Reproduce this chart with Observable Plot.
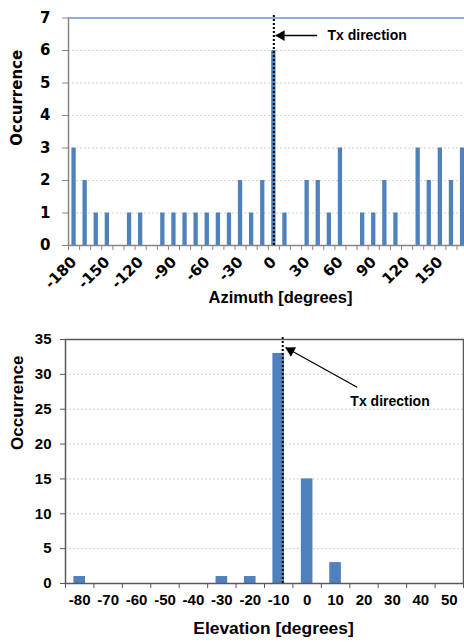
<!DOCTYPE html>
<html><head><meta charset="utf-8">
<script src="https://cdn.jsdelivr.net/npm/d3@7"></script>
<script src="https://cdn.jsdelivr.net/npm/@observablehq/plot@0.6"></script>
<style>
html,body{margin:0;padding:0;background:#fff;}
#wrap{width:464px;height:642px;overflow:hidden;background:#fff;}
#wrap svg{display:block;}
</style></head><body><div id="wrap"></div>
<script>
// ---------- data ----------
const azimuthBins = [-180,-170,-160,-150,-140,-130,-120,-110,-100,-90,-80,-70,-60,-50,-40,-30,-20,-10,0,10,20,30,40,50,60,70,80,90,100,110,120,130,140,150,160,170];
const azimuthCounts = [3,2,1,1,0,1,1,0,1,1,1,1,1,1,1,2,1,2,6,1,0,2,2,1,3,0,1,1,2,1,0,3,2,3,2,3];
const azimuthTickLabels = [-180,-150,-120,-90,-60,-30,0,30,60,90,120,150];
const azimuthYTicks = [0,1,2,3,4,5,6,7];

const elevationBins = [-80,-70,-60,-50,-40,-30,-20,-10,0,10,20,30,40,50];
const elevationCounts = [1,0,0,0,0,1,1,33,15,3,0,0,0,0];
const elevationYTicks = [0,5,10,15,20,25,30,35];

// annotations (data coordinates)
const azTxLine = [{x: 0, y1: 0, y2: 7.08}];
const azTxArrow = [{x1: 39, y1: 6.46, x2: 1.5, y2: 6.46}];
const azTxLabel = [{x: 48.3, y: 6.46, text: "Tx direction"}];

const elTxLine = [{x: -8.6, y1: 0, y2: 35.43}];
const elTxArrow = [{x1: 17.6, y1: 28.16, x2: -7.6, y2: 33.85}];
const elTxLabel = [{x: 15.2, y: 26.1, text: "Tx direction"}];

const BLUE = "#4f81bd";
const GRID = {stroke: "#d4d4d4", strokeOpacity: 1, strokeDasharray: "2,2"};

const azData = azimuthBins.map((b, i) => ({bin: b, count: azimuthCounts[i]}));
const elData = elevationBins.map((b, i) => ({bin: b, count: elevationCounts[i]}));
const azStep = azimuthBins[1] - azimuthBins[0];
const elStep = elevationBins[1] - elevationBins[0];
const azBounds = azimuthBins.map(b => b - azStep / 2).concat([azimuthBins[azimuthBins.length - 1] + azStep / 2]);
const elBounds = elevationBins.map(b => b - elStep / 2).concat([elevationBins[elevationBins.length - 1] + elStep / 2]);

function arrowHead(a, scaleX, scaleY) {
  const dxp = (a.x1 - a.x2) * scaleX, dyp = -(a.y1 - a.y2) * scaleY;
  const len = Math.hypot(dxp, dyp);
  const ux = dxp / len, uy = dyp / len;
  const rot = Math.atan2(-ux, uy) * 180 / Math.PI;
  return {dx: ux * 6, dy: uy * 6, rotate: rot};
}

// ---------- top: azimuth ----------
const azRange = [68, 467.6];
const azSX = (azRange[1] - azRange[0]) / (azBounds[azBounds.length - 1] - azBounds[0]);
const azSY = (245 - 17.5) / 7;
const azHead = arrowHead(azTxArrow[0], azSX, azSY);

const topChart = Plot.plot({
  width: 464, height: 320,
  marginTop: 17.5, marginBottom: 75, marginLeft: 68, marginRight: 0,
  style: {fontFamily: "'DejaVu Sans', Verdana, sans-serif", fontWeight: "bold", fontSize: "14px", color: "#000", background: "#fff", overflow: "hidden"},
  x: {type: "linear", domain: [azBounds[0], azBounds[azBounds.length - 1]], range: azRange},
  y: {domain: [0, 7]},
  marks: [
    Plot.gridY([1,2,3,4,5,6], GRID),
    Plot.ruleY([7], {stroke: "#6f93c9", strokeWidth: 1.5}),
    Plot.rectY(azData, {x1: d => d.bin - azStep / 2, x2: d => d.bin + azStep / 2, y: "count", fill: BLUE, insetLeft: 3.4, insetRight: 3.4}),
    Plot.ruleX([azBounds[0]], {stroke: "#868686", strokeWidth: 1.5}),
    Plot.ruleY([0], {stroke: "#868686", strokeWidth: 1.5}),
    Plot.axisY({ticks: azimuthYTicks, tickSize: 6, tickPadding: 12, tickFormat: d => String(d), stroke: "#868686", fill: "#000", fontSize: 15, label: null}),
    Plot.axisX({ticks: azBounds, tickSize: 5, tickFormat: () => "", stroke: "#868686", label: null}),
    Plot.axisX({ticks: azimuthTickLabels, tickSize: 0, tickPadding: 14, tickRotate: -45, tickFormat: d => String(d), fill: "#000", fontSize: 15, label: null}),
    Plot.ruleX(azTxLine, {x: "x", y1: "y1", y2: "y2", stroke: "#000", strokeWidth: 2, strokeDasharray: "2,2"}),
    Plot.link(azTxArrow, {x1: "x1", y1: "y1", x2: "x2", y2: "y2", stroke: "#000", strokeWidth: 1.5}),
    Plot.dot(azTxArrow, {x: "x2", y: "y2", symbol: "triangle", r: 4, fill: "#000", stroke: null, rotate: azHead.rotate, dx: azHead.dx, dy: azHead.dy}),
    Plot.text(azTxLabel, {x: "x", y: "y", text: "text", textAnchor: "start", fontFamily: "'Liberation Sans', Arial, sans-serif", fontSize: 14, fontWeight: "bold", fill: "#000"}),
    Plot.text(["Occurrence"], {frameAnchor: "left", text: d => d, rotate: -90, dx: -51, dy: 14, fontSize: 15, fontWeight: "bold", fill: "#000"}),
    Plot.text(["Azimuth [degrees]"], {frameAnchor: "bottom", text: d => d, dx: 14, dy: 57, fontFamily: "'Liberation Sans', Arial, sans-serif", fontSize: 16.5, fontWeight: "bold", fill: "#000"})
  ]
});

// ---------- bottom: elevation ----------
const elSX = (463 - 65) / (elBounds[elBounds.length - 1] - elBounds[0]);
const elSY = (583 - 339) / 35;
const elHead = arrowHead(elTxArrow[0], elSX, elSY);

const bottomChart = Plot.plot({
  width: 464, height: 322,
  marginTop: 19, marginBottom: 59, marginLeft: 65, marginRight: 1,
  style: {fontFamily: "'Liberation Sans', Arial, sans-serif", fontWeight: "bold", fontSize: "15px", color: "#000", background: "#fff", overflow: "visible"},
  x: {type: "linear", domain: [elBounds[0], elBounds[elBounds.length - 1]]},
  y: {domain: [0, 35]},
  marks: [
    Plot.gridY([5,10,15,20,25,30], GRID),
    Plot.rectY(elData, {x1: d => d.bin - elStep / 2, x2: d => d.bin + elStep / 2, y: "count", fill: BLUE, insetLeft: 8.4, insetRight: 8.4}),
    Plot.frame({stroke: "#595959", strokeWidth: 1.5}),
    Plot.axisY({ticks: elevationYTicks, tickSize: 5, tickPadding: 9, tickFormat: d => String(d), stroke: "#595959", fill: "#000", label: null}),
    Plot.axisX({ticks: elBounds, tickSize: 5, tickFormat: () => "", stroke: "#595959", label: null}),
    Plot.axisX({ticks: elevationBins, tickSize: 0, tickPadding: 11, tickFormat: d => String(d), fill: "#000", label: null}),
    Plot.ruleX(elTxLine, {x: "x", y1: "y1", y2: "y2", stroke: "#000", strokeWidth: 2, strokeDasharray: "2,2"}),
    Plot.link(elTxArrow, {x1: "x1", y1: "y1", x2: "x2", y2: "y2", stroke: "#000", strokeWidth: 1.2}),
    Plot.dot(elTxArrow, {x: "x2", y: "y2", symbol: "triangle", r: 4, fill: "#000", stroke: null, rotate: elHead.rotate, dx: elHead.dx, dy: elHead.dy}),
    Plot.text(elTxLabel, {x: "x", y: "y", text: "text", textAnchor: "start", fontSize: 14, fontWeight: "bold", fill: "#000"}),
    Plot.text(["Occurrence"], {frameAnchor: "left", text: d => d, rotate: -90, dx: -47.5, dy: -11.5, fontSize: 17, fontWeight: "bold", fill: "#000"}),
    Plot.text(["Elevation [degrees]"], {frameAnchor: "bottom", text: d => d, dx: 9, dy: 50, fontSize: 17.4, fontWeight: "bold", fill: "#000"})
  ]
});

const wrap = document.getElementById("wrap");
wrap.appendChild(topChart);
wrap.appendChild(bottomChart);
</script>
</body></html>
